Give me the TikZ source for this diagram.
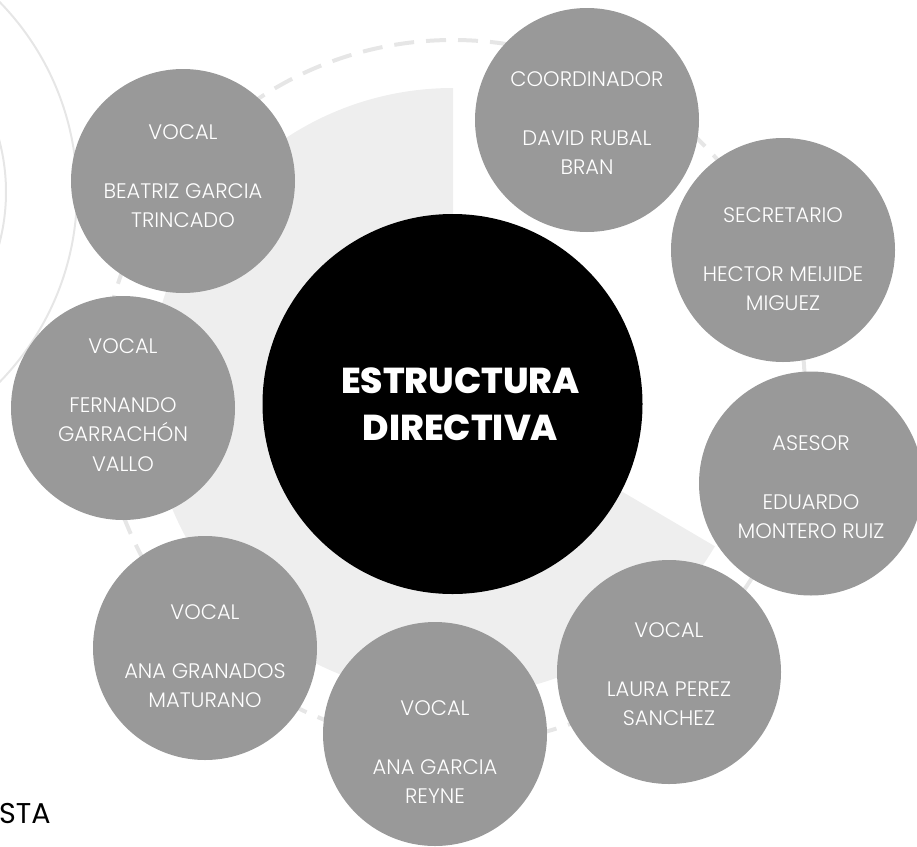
\documentclass[tikz,border=0pt]{standalone}
\usepackage{fontspec}
\setmainfont{Poppins}[UprightFont=* Light, BoldFont=* Bold]
\newfontfamily\poppinsreg{Poppins}
\newfontfamily\poppinsheavy{Poppins ExtraBold}
\usetikzlibrary{positioning}
\definecolor{memgrey}{HTML}{999999}
\definecolor{sectorgrey}{HTML}{EEEEEE}
\definecolor{ringgrey}{HTML}{E6E6E6}
\tikzstyle{member} = [circle, fill=memgrey, minimum size=224pt, inner sep=0pt]
\tikzstyle{membertext} = [text=white, align=center, inner sep=0pt, font=\fontsize{21}{29.5}\selectfont]
\tikzstyle{core} = [circle, fill=black, minimum size=380pt, inner sep=0pt]
\tikzstyle{coretext} = [text=white, align=center, inner sep=0pt, font=\poppinsheavy\fontsize{36}{47.5}\selectfont]
\tikzstyle{ring} = [draw=ringgrey, line width=2pt]
\tikzstyle{dashring} = [draw=ringgrey, line width=4pt, dash pattern=on 20pt off 12pt]
\newcommand{\member}[3]{node (m#1) [member] {} node (t#1) [membertext, yshift=#3] {#2}}

\begin{document}
\begin{tikzpicture}[x=1pt,y=-1pt]
\useasboundingbox (0,0) rectangle (917,846);
% rings on the left
\draw[ring] (-195,192) circle[radius=272];
\draw[ring] (-195,192) circle[radius=201];
% dashed orbit and sector behind
\draw[dashring] (453,392) circle[radius=352];
\path[fill=sectorgrey] (453,392) -- ++(0,-304) arc[start angle=-90, end angle=-329.5, radius=304] -- cycle;
\node (core) [core] at (452.5,404) {};
\node (title) [coretext, xshift=8pt] at (core) {ESTRUCTURA\\DIRECTIVA};

\path (183,181) \member{1}{VOCAL\\[29.5pt]BEATRIZ GARCIA\\TRINCADO}{5pt};
\path (587,120) \member{2}{COORDINADOR\\[29.5pt]DAVID RUBAL\\BRAN}{-3pt};
\path (783,250) \member{3}{SECRETARIO\\[29.5pt]HECTOR MEIJIDE\\MIGUEZ}{-9pt};
\path (811,483.5) \member{4}{ASESOR\\[29.5pt]EDUARDO\\MONTERO RUIZ}{-3.5pt};
\path (669,672) \member{5}{VOCAL\\[29.5pt]LAURA PEREZ\\SANCHEZ}{-2pt};
\path (435,734) \member{6}{VOCAL\\[29.5pt]ANA GARCIA\\REYNE}{-18pt};
\path (205,648) \member{7}{VOCAL\\[29.5pt]ANA GRANADOS\\MATURANO}{-8pt};
\path (123,408) \member{8}{VOCAL\\[29.5pt]FERNANDO\\GARRACHÓN\\VALLO}{3pt};

\node (sta) [anchor=base west, inner sep=0pt, font=\poppinsreg\fontsize{28.6}{30}\selectfont] at (-1,823) {STA};
\end{tikzpicture}
\end{document}
